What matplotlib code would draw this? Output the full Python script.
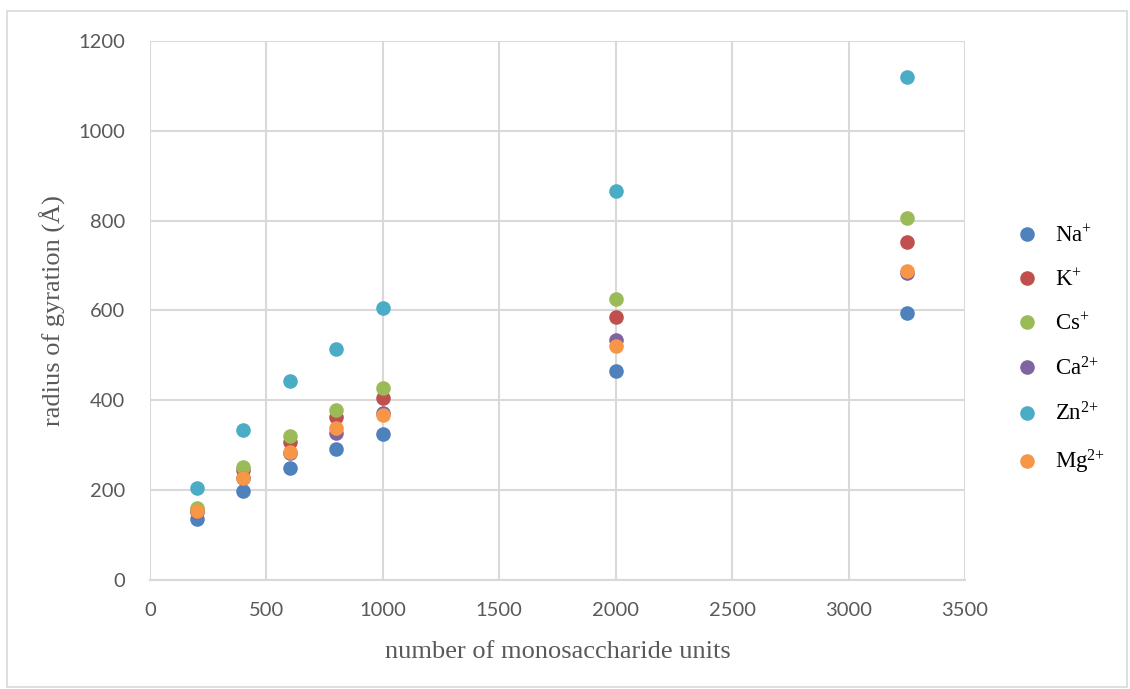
import matplotlib.pyplot as plt
from matplotlib.patches import Rectangle

# chain length (number of monosaccharide units)
units = [200, 400, 600, 800, 1000, 2000, 3250]

# radius of gyration (Å) for each counter-ion
na = [136, 198, 249, 291, 324, 466, 594]
k = [155, 245, 307, 362, 405, 585, 753]
cs = [160, 252, 321, 379, 428, 626, 805]
ca = [152, 228, 282, 327, 371, 534, 683]
zn = [205, 333, 442, 514, 605, 866, 1119]
mg = [153, 226, 286, 338, 367, 522, 687]

ions = ['Na^{{+}}', 'K^{{+}}', 'Cs^{{+}}', 'Ca^{2{+}}', 'Zn^{2{+}}', 'Mg^{2{+}}']
series = [na, k, cs, ca, zn, mg]
colors = ['#4F81BD', '#C0504D', '#9BBB59', '#8064A2', '#4BACC6', '#F79646']

plt.rcParams['mathtext.fontset'] = 'custom'
plt.rcParams['mathtext.rm'] = 'Liberation Serif'

fig = plt.figure(figsize=(11.3, 6.89), dpi=100)
ax = fig.add_axes([0.1327, 0.1582, 0.7213, 0.7823])

# outer chart border
fig.patches.append(Rectangle((0.0062, 0.003), 0.991, 0.981, transform=fig.transFigure,
                             fill=False, edgecolor='#d9d9d9', linewidth=1.2))

for vals, name, col in zip(series, ions, colors):
    ax.plot(units, vals, 'o', color=col, markersize=10.5, markeredgewidth=0,
            label=r'$\mathregular{' + name + '}$', zorder=3)

ax.set_xlim(0, 3500)
ax.set_ylim(0, 1200)
ax.set_xticks(range(0, 3501, 500))
ax.set_yticks(range(0, 1201, 200))
ax.grid(True, color='#d9d9d9', linewidth=1.5)
ax.set_axisbelow(True)
for side in ['top', 'right', 'left']:
    ax.spines[side].set_visible(False)
ax.spines['bottom'].set_color('#d9d9d9')
ax.spines['bottom'].set_linewidth(1.5)
ax.tick_params(length=0, labelsize=14.5, labelcolor='#595959')
ax.tick_params(axis='x', pad=16)
ax.tick_params(axis='y', pad=18)
for lab in ax.get_xticklabels() + ax.get_yticklabels():
    lab.set_fontfamily('Lato')

ax.set_xlabel('number of monosaccharide units', family='Liberation Serif',
              fontsize=19, color='#595959', labelpad=16)
ax.set_ylabel('radius of gyration (Å)', family='Liberation Serif',
              fontsize=19, color='#595959', labelpad=9)

leg = ax.legend(loc='center left', bbox_to_anchor=(1.037, 0.425), frameon=False,
                prop={'family': 'Liberation Serif', 'size': 16.5},
                labelspacing=0.97, handletextpad=0.2, borderaxespad=0)

fig.savefig('out.png', dpi=100)
